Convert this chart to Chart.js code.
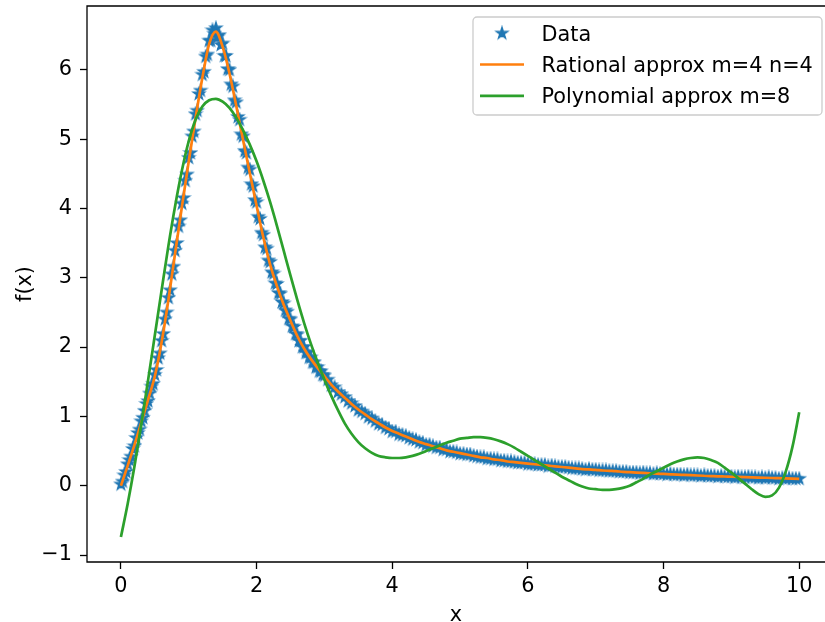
<!DOCTYPE html>
<html>
<head>
<meta charset="utf-8">
<title>Rational vs polynomial approximation</title>
<script src="https://cdn.jsdelivr.net/npm/chart.js@4"></script>
<style>
  html, body { margin: 0; padding: 0; background: #fff; overflow: hidden; }
  canvas { display: block; }
</style>
</head>
<body>
<canvas id="approxChart" width="825" height="622"></canvas>
<script>
const xTicks = [0, 2, 4, 6, 8, 10];
const yTicks = [-1, 0, 1, 2, 3, 4, 5, 6];
const seriesNames = ['Data', 'Rational approx m=4 n=4', 'Polynomial approx m=8'];

// measured samples, x = 0 .. 3 every 0.025
const dataHeadY = [
  0.02, 0.06, 0.15, 0.20, 0.31, 0.37, 0.42, 0.53, 0.57, 0.69,
  0.76, 0.81, 0.93, 0.98, 1.08, 1.18, 1.22, 1.33, 1.43, 1.47,
  1.60, 1.67, 1.84, 1.91, 2.09, 2.19, 2.40, 2.50, 2.71, 2.82,
  3.05, 3.16, 3.39, 3.50, 3.74, 3.83, 4.07, 4.15, 4.40, 4.49,
  4.73, 4.80, 5.04, 5.11, 5.36, 5.41, 5.65, 5.70, 5.93, 5.97,
  6.19, 6.22, 6.42, 6.42, 6.57, 6.52, 6.60, 6.47, 6.50, 6.36,
  6.38, 6.20, 6.20, 6.01, 6.00, 5.79, 5.76, 5.56, 5.53, 5.32,
  5.28, 5.07, 5.04, 4.83, 4.80, 4.59, 4.56, 4.35, 4.32, 4.12,
  4.09, 3.88, 3.85, 3.65, 3.62, 3.44, 3.42, 3.25, 3.23, 3.08,
  3.06, 2.92, 2.91, 2.78, 2.77, 2.65, 2.63, 2.53, 2.51, 2.41,
  2.40, 2.30, 2.29, 2.19, 2.18, 2.09, 2.09, 2.00, 2.00, 1.92,
  1.92, 1.85, 1.85, 1.78, 1.78, 1.71, 1.71, 1.65, 1.65, 1.60,
  1.59
];
// measured samples, x = 3.05 .. 10 every 0.05
const dataTailY = [
  1.53, 1.45, 1.42, 1.35, 1.32, 1.28, 1.22, 1.19, 1.15, 1.09,
  1.07, 1.04, 0.99, 0.97, 0.93, 0.89, 0.88, 0.84, 0.82, 0.78,
  0.78, 0.74, 0.73, 0.72, 0.69, 0.67, 0.66, 0.63, 0.62, 0.59,
  0.59, 0.57, 0.55, 0.55, 0.52, 0.52, 0.49, 0.49, 0.48, 0.46,
  0.46, 0.45, 0.45, 0.43, 0.42, 0.41, 0.41, 0.39, 0.39, 0.38,
  0.38, 0.36, 0.36, 0.35, 0.35, 0.34, 0.33, 0.33, 0.33, 0.31,
  0.31, 0.31, 0.30, 0.30, 0.30, 0.28, 0.29, 0.28, 0.27, 0.27,
  0.27, 0.26, 0.25, 0.25, 0.25, 0.24, 0.23, 0.24, 0.23, 0.23,
  0.22, 0.22, 0.22, 0.21, 0.21, 0.21, 0.20, 0.20, 0.20, 0.19,
  0.19, 0.19, 0.18, 0.19, 0.18, 0.18, 0.17, 0.18, 0.17, 0.17,
  0.16, 0.17, 0.16, 0.16, 0.16, 0.15, 0.16, 0.15, 0.15, 0.15,
  0.14, 0.15, 0.14, 0.14, 0.14, 0.13, 0.14, 0.13, 0.13, 0.13,
  0.12, 0.13, 0.12, 0.12, 0.13, 0.12, 0.12, 0.11, 0.12, 0.11,
  0.12, 0.11, 0.11, 0.10, 0.11, 0.10, 0.11, 0.10, 0.10, 0.10
];
// fitted curves, x = 0 .. 10 every 0.1
const rationalY = [
  0.00, 0.29, 0.59, 0.91, 1.24, 1.58, 2.07, 2.68, 3.36, 4.03,
  4.68, 5.30, 5.88, 6.37, 6.55, 6.33, 5.95, 5.48, 4.99, 4.51,
  4.04, 3.58, 3.19, 2.88, 2.61, 2.38, 2.16, 1.98, 1.83, 1.70,
  1.58, 1.46, 1.36, 1.27, 1.18, 1.10, 1.03, 0.96, 0.90, 0.84,
  0.79, 0.75, 0.71, 0.67, 0.63, 0.60, 0.57, 0.54, 0.51, 0.49,
  0.47, 0.45, 0.43, 0.41, 0.40, 0.38, 0.37, 0.35, 0.34, 0.33,
  0.32, 0.31, 0.30, 0.29, 0.28, 0.27, 0.26, 0.25, 0.24, 0.235,
  0.23, 0.22, 0.215, 0.21, 0.20, 0.195, 0.19, 0.185, 0.18, 0.175,
  0.17, 0.165, 0.16, 0.156, 0.152, 0.148, 0.144, 0.14, 0.136, 0.133,
  0.13, 0.127, 0.124, 0.121, 0.118, 0.115, 0.112, 0.109, 0.106, 0.103,
  0.10
];
const polynomialY = [
  -0.74, -0.26, 0.28, 0.88, 1.52, 2.17, 2.82, 3.46, 4.04, 4.55,
  4.97, 5.28, 5.47, 5.56, 5.58, 5.54, 5.45, 5.31, 5.13, 4.92,
  4.68, 4.40, 4.09, 3.75, 3.39, 3.03, 2.68, 2.35, 2.05, 1.78,
  1.53, 1.30, 1.09, 0.90, 0.75, 0.63, 0.54, 0.475, 0.43, 0.41,
  0.40, 0.40, 0.41, 0.43, 0.46, 0.50, 0.54, 0.58, 0.62, 0.65,
  0.68, 0.69, 0.70, 0.70, 0.69, 0.67, 0.64, 0.60, 0.55, 0.49,
  0.43, 0.37, 0.31, 0.25, 0.19, 0.13, 0.08, 0.03, -0.01, -0.04,
  -0.05, -0.06, -0.06, -0.05, -0.03, 0.00, 0.05, 0.10, 0.16, 0.21,
  0.26, 0.31, 0.35, 0.38, 0.40, 0.41, 0.40, 0.37, 0.33, 0.26,
  0.19, 0.11, 0.03, -0.05, -0.12, -0.16, -0.14, -0.03, 0.20, 0.56,
  1.06
];

const BLUE = '#1f77b4', ORANGE = '#ff7f0e', GREEN = '#2ca02c';
const FONT = '"DejaVu Sans", sans-serif';
const FONT_SIZE = 20.8;

// matplotlib-like filled star marker
function makeStar(radius, color) {
    const size = Math.ceil(radius * 2 + 4);
    const c = document.createElement('canvas');
    c.width = size; c.height = size;
    const g = c.getContext('2d');
    g.beginPath();
    for (let i = 0; i < 10; i++) {
        const r = i % 2 === 0 ? radius : radius * 0.382;
        const a = -Math.PI / 2 + i * Math.PI / 5;
        g.lineTo(size / 2 + r * Math.cos(a), size / 2 + r * Math.sin(a));
    }
    g.closePath();
    g.fillStyle = color;
    g.fill();
    g.lineWidth = 1.4;
    g.strokeStyle = color;
    g.stroke();
    return c;
}
const starMarker = makeStar(6, BLUE);

const dataPoints = dataHeadY.map((y, i) => ({ x: i * 0.025, y }))
    .concat(dataTailY.map((y, i) => ({ x: 3.05 + i * 0.05, y })));
const rationalPoints = rationalY.map((y, i) => ({ x: i * 0.1, y }));
const polynomialPoints = polynomialY.map((y, i) => ({ x: i * 0.1, y }));

const fmt = v => (v < 0 ? '\u2212' + Math.abs(v) : String(v));

// axes frame (right spine falls outside the cropped picture) + legend box
const frameAndLegend = {
    id: 'frameAndLegend',
    afterDatasetsDraw(chart) {
        const { ctx, chartArea: a } = chart;
        ctx.save();
        ctx.strokeStyle = '#000';
        ctx.lineWidth = 1.3;
        ctx.beginPath();
        ctx.moveTo(a.right + 2, a.top);
        ctx.lineTo(a.left, a.top);
        ctx.lineTo(a.left, a.bottom);
        ctx.lineTo(a.right + 2, a.bottom);
        ctx.stroke();
        ctx.restore();
    },
    afterDraw(chart) {
        const ctx = chart.ctx;
        ctx.save();
        ctx.beginPath();
        ctx.roundRect(473, 17, 349, 98, 4);
        ctx.fillStyle = 'rgba(255,255,255,0.8)';
        ctx.fill();
        ctx.strokeStyle = '#cccccc';
        ctx.lineWidth = 1.3;
        ctx.stroke();
        const rows = [33.3, 64.5, 95.8];
        chart.data.datasets.forEach((ds, i) => {
            const cy = rows[i];
            if (ds.showLine) {
                ctx.beginPath();
                ctx.moveTo(480, cy);
                ctx.lineTo(524, cy);
                ctx.strokeStyle = ds.borderColor;
                ctx.lineWidth = ds.borderWidth;
                ctx.stroke();
            } else {
                const m = ds.pointStyle;
                ctx.drawImage(m, 502 - m.width / 2, cy - m.height / 2);
            }
            ctx.fillStyle = '#000';
            ctx.font = FONT_SIZE + 'px ' + FONT;
            ctx.textBaseline = 'alphabetic';
            ctx.fillText(ds.label, 541.5, cy + 7.6);
        });
        ctx.restore();
    }
};

Chart.defaults.font.family = FONT;
Chart.defaults.font.size = FONT_SIZE;
Chart.defaults.color = '#000';

new Chart(document.getElementById('approxChart').getContext('2d'), {
    type: 'scatter',
    data: {
        datasets: [
            {
                label: seriesNames[0],
                data: dataPoints,
                showLine: false,
                pointStyle: starMarker,
                pointRadius: 6,
                order: 3
            },
            {
                label: seriesNames[1],
                data: rationalPoints,
                showLine: true,
                borderColor: ORANGE,
                borderWidth: 2.7,
                pointRadius: 0,
                cubicInterpolationMode: 'monotone',
                order: 2
            },
            {
                label: seriesNames[2],
                data: polynomialPoints,
                showLine: true,
                borderColor: GREEN,
                borderWidth: 2.7,
                pointRadius: 0,
                cubicInterpolationMode: 'monotone',
                order: 1
            }
        ]
    },
    options: {
        responsive: false,
        animation: false,
        events: [],
        layout: { autoPadding: false, padding: { top: 6, right: 0, left: 0, bottom: 0 } },
        plugins: { legend: { display: false }, tooltip: { enabled: false } },
        scales: {
            x: {
                type: 'linear',
                min: -0.5,
                max: 10.38,
                afterBuildTicks: s => { s.ticks = xTicks.map(v => ({ value: v })); },
                afterFit: s => { s.height = 60; s.paddingLeft = 0; s.paddingRight = 0; },
                border: { display: false },
                grid: { drawOnChartArea: false, tickLength: 7, tickColor: '#000', tickWidth: 1.3 },
                ticks: { padding: 5, callback: fmt, maxRotation: 0 },
                title: { display: true, text: 'x', padding: { top: 0, bottom: -6 } }
            },
            y: {
                type: 'linear',
                min: -1.1,
                max: 6.92,
                afterBuildTicks: s => { s.ticks = yTicks.map(v => ({ value: v })); },
                afterFit: s => { s.width = 87; s.paddingTop = 0; s.paddingBottom = 0; },
                border: { display: false },
                grid: { drawOnChartArea: false, tickLength: 7, tickColor: '#000', tickWidth: 1.3 },
                ticks: { padding: 8, callback: fmt },
                title: { display: true, text: 'f(x)', padding: { top: 13, bottom: 0 } }
            }
        }
    },
    plugins: [frameAndLegend]
});
</script>
</body>
</html>
